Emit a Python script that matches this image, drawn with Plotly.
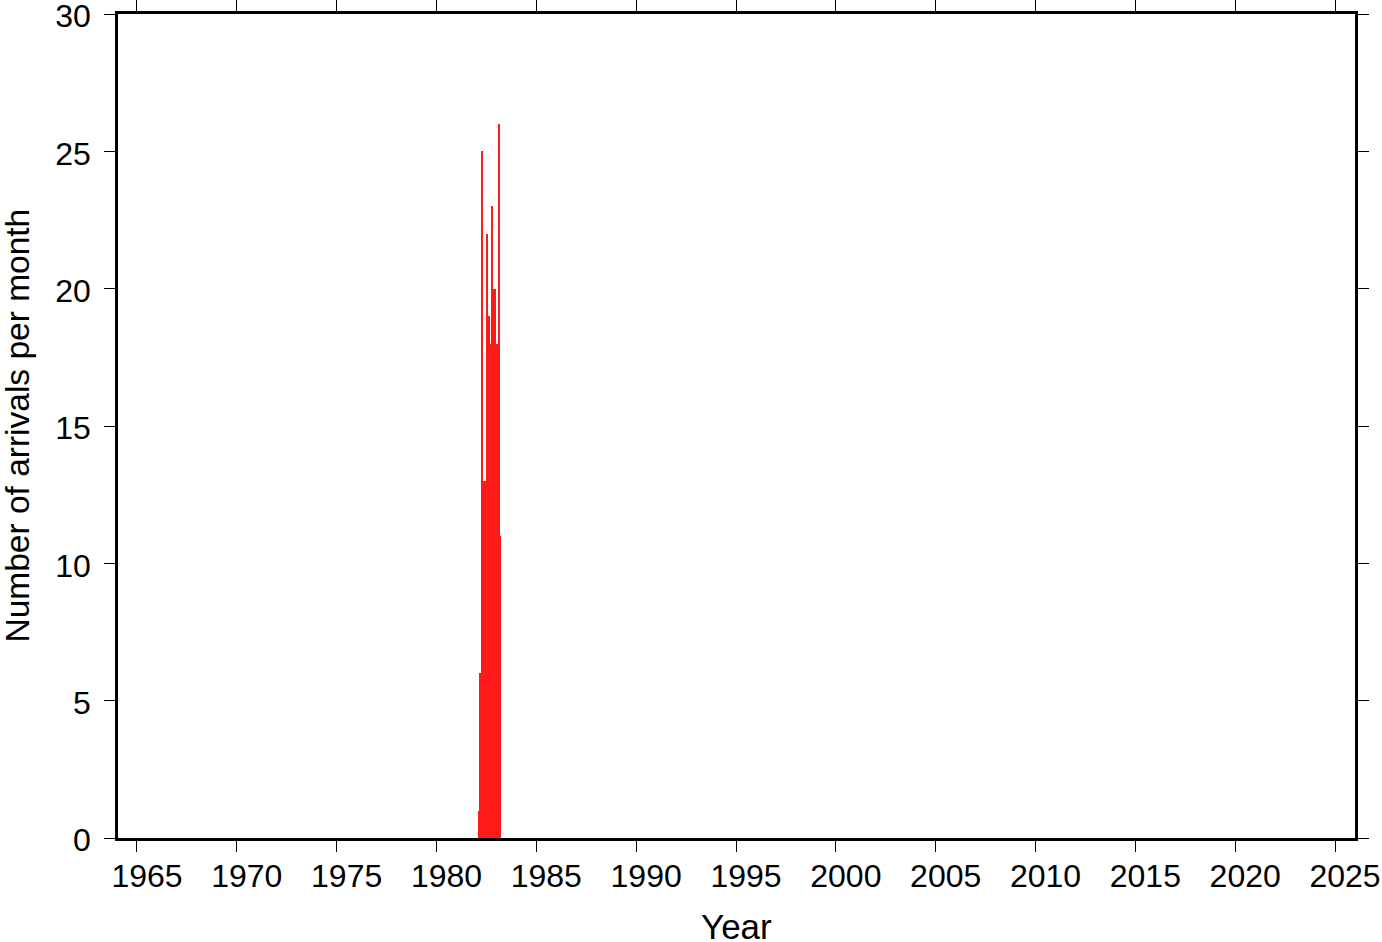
import plotly.graph_objects as go

# Monthly arrival counts (year, month)
years = [1982] * 11 + [1983] * 3
months = [2, 3, 4, 5, 6, 7, 8, 9, 10, 11, 12, 1, 2, 3]
counts = [1, 6, 25, 13, 13, 22, 19, 18, 23, 20, 20, 18, 26, 11]

tick_years = list(range(1965, 2030, 5))
y_ticks = [0, 5, 10, 15, 20, 25, 30]

x_title = "Year"
y_title = "Number of arrivals per month"

# bar centre in decimal years, one month wide
x_centres = [y + (m - 0.5) / 12.0 for y, m in zip(years, months)]

font_family = "Liberation Sans, Arial, Helvetica, sans-serif"

fig = go.Figure(
    go.Bar(
        x=x_centres,
        y=counts,
        width=[1 / 12.0] * len(counts),
        marker=dict(color="#ff1a1a", line=dict(width=0)),
        showlegend=False,
    )
)

axis_common = dict(
    showline=True,
    linecolor="black",
    linewidth=2.5,
    mirror="allticks",
    ticks="outside",
    ticklen=11,
    tickwidth=1.2,
    tickcolor="black",
    showgrid=False,
    zeroline=False,
    automargin=False,
    ticklabeloverflow="allow",
    tickfont=dict(family=font_family, size=32, color="black"),
)

fig.update_layout(
    width=1382,
    height=942,
    paper_bgcolor="white",
    plot_bgcolor="white",
    margin=dict(l=118, r=27, t=14, b=104),
    bargap=0,
    xaxis=dict(
        range=[1964.05, 2026.0],
        tickvals=tick_years,
        ticktext=[str(v) for v in tick_years],
        ticklabelshift=10,
        ticklabelstandoff=-3,
        **axis_common,
    ),
    yaxis=dict(
        range=[0, 30],
        tickvals=y_ticks,
        ticktext=[str(v) for v in y_ticks],
        ticklabelshift=2,
        ticklabelstandoff=7,
        **axis_common,
    ),
    annotations=[
        dict(
            text=x_title, xref="paper", yref="paper", x=0.5, y=-0.108,
            xanchor="center", yanchor="middle", showarrow=False, borderpad=0,
            font=dict(family=font_family, size=35, color="black"),
        ),
        dict(
            text=y_title, xref="paper", yref="paper", x=-0.082, y=0.5,
            xanchor="center", yanchor="middle", textangle=-90, showarrow=False,
            borderpad=0,
            font=dict(family=font_family, size=33.5, color="black"),
        ),
    ],
)

fig.write_html(
    "out.html",
    config={"displayModeBar": False},
    post_script="document.body.style.margin='0';",
)
